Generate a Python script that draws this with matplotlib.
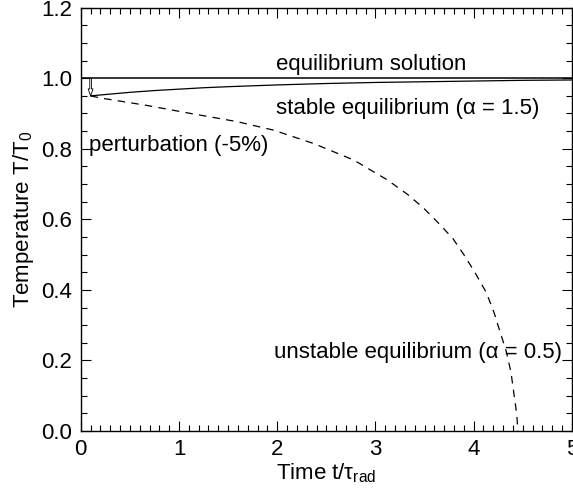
import matplotlib
matplotlib.use("Agg")
import matplotlib.pyplot as plt
from matplotlib.ticker import MultipleLocator, FormatStrFormatter

plt.rcParams['font.family'] = ['Liberation Sans', 'DejaVu Sans']
plt.rcParams['mathtext.fontset'] = 'custom'
plt.rcParams['mathtext.rm'] = 'Liberation Sans'
plt.rcParams['mathtext.it'] = 'Liberation Sans'
plt.rcParams['mathtext.default'] = 'regular'

# Equilibrium solution
eq_t = [0.0, 5.0]
eq_T = [1.0, 1.0]

# Stable equilibrium (alpha = 1.5)
stable_t = [0.1, 0.3, 0.5, 0.75, 1.0, 1.25, 1.5, 2.0, 2.5, 3.0, 3.5, 4.0, 4.5, 5.0]
stable_T = [0.950, 0.955, 0.960, 0.965, 0.969, 0.973, 0.976, 0.981, 0.985, 0.988, 0.990, 0.992, 0.994, 0.995]

# Unstable equilibrium (alpha = 0.5)
unstable_t = [0.1, 0.2, 0.67, 1.12, 1.59, 1.96, 2.37, 2.78, 3.12, 3.33, 3.49, 3.64, 3.79,
              3.91, 4.02, 4.13, 4.21, 4.27, 4.33, 4.38, 4.41, 4.44, 4.45]
unstable_T = [0.950, 0.944, 0.923, 0.900, 0.877, 0.853, 0.815, 0.768, 0.712, 0.670, 0.632, 0.590, 0.545,
              0.496, 0.446, 0.392, 0.334, 0.280, 0.228, 0.167, 0.106, 0.045, 0.0]

perturb_t = 0.1
perturb_from = 1.0
perturb_to = 0.95

fig = plt.figure(figsize=(5.73, 4.94), dpi=100)
ax = fig.add_axes([0.141, 0.1275, 0.857, 0.857])

ax.plot(eq_t, eq_T, color='black', lw=1.1)
ax.plot(stable_t, stable_T, color='black', lw=0.9)
ax.plot(unstable_t, unstable_T, color='black', lw=0.9, linestyle=(0, (6, 5)))

ax.annotate('', xy=(perturb_t, perturb_to), xytext=(perturb_t, perturb_from),
            arrowprops=dict(arrowstyle='simple,head_length=0.5,head_width=0.35,tail_width=0.12',
                            fc='white', ec='black', lw=0.6, shrinkA=0, shrinkB=0))

fs = 16
ax.text(1.99, 1.04, 'equilibrium solution', fontsize=fs, va='center', ha='left')
ax.text(1.99, 0.913, 'stable equilibrium (α = 1.5)', fontsize=fs, va='center', ha='left')
ax.text(0.08, 0.81, 'perturbation (-5%)', fontsize=fs, va='center', ha='left')
ax.text(1.97, 0.223, 'unstable equilibrium (α = 0.5)', fontsize=fs, va='center', ha='left')

ax.set_xlim(0, 5)
ax.set_ylim(0, 1.2)
ax.xaxis.set_major_locator(MultipleLocator(1))
ax.xaxis.set_minor_locator(MultipleLocator(0.1))
ax.yaxis.set_major_locator(MultipleLocator(0.2))
ax.yaxis.set_minor_locator(MultipleLocator(0.05))
ax.yaxis.set_major_formatter(FormatStrFormatter('%.1f'))
ax.xaxis.set_major_formatter(FormatStrFormatter('%d'))
ax.tick_params(which='both', direction='in', top=True, right=True, labelsize=fs, width=0.8)
ax.tick_params(which='major', length=7, pad=6)
ax.tick_params(which='minor', length=4)
for s in ax.spines.values():
    s.set_linewidth(1.0)

ax.set_xlabel(r'Time t/$\tau_{rad}$', fontsize=fs, labelpad=1)
ax.set_ylabel(r'Temperature T/T$_0$', fontsize=fs, labelpad=4)

fig.savefig('out.png', dpi=100)
